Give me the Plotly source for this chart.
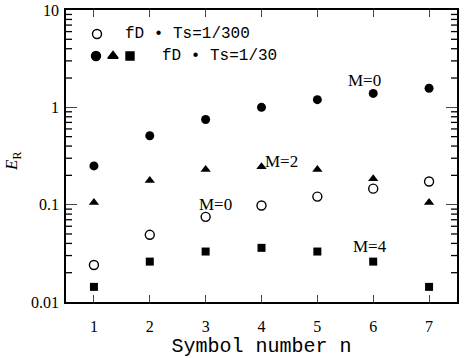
import math
import plotly.graph_objects as go

n = [1, 2, 3, 4, 5, 6, 7]
m0_slow = [0.024, 0.049, 0.075, 0.098, 0.121, 0.146, 0.173]   # fD*Ts=1/300, M=0 (open circles)
m0_fast = [0.25, 0.51, 0.75, 1.0, 1.2, 1.39, 1.57]            # fD*Ts=1/30, M=0
m2_fast = [0.105, 0.177, 0.23, 0.245, 0.23, 0.185, 0.105]     # fD*Ts=1/30, M=2
m4_fast = [0.0143, 0.026, 0.033, 0.036, 0.033, 0.026, 0.0143] # fD*Ts=1/30, M=4

ytickvals = [0.01, 0.1, 1, 10]
yticktext = ["0.01", "0.1", "1", "10"]
yminor = [k * 10 ** e for e in (-2, -1, 0) for k in range(2, 10)]

W, H = 466, 358
L, R, T, B = 66, 9, 10, 56
pw, ph = W - L - R, H - T - B
YLOG = (-2, 1)

def px(xp):
    return (xp - L) / pw

def py(yp):
    return 1 - (yp - T) / ph

serif = "Liberation Serif"
mono = "Liberation Mono"

fig = go.Figure()
fig.add_trace(go.Scatter(x=n, y=m0_slow, mode="markers",
                         marker=dict(symbol="circle-open", size=9, color="black", line=dict(width=1.4))))
fig.add_trace(go.Scatter(x=n, y=m0_fast, mode="markers",
                         marker=dict(symbol="circle", size=9, color="black")))
fig.add_trace(go.Scatter(x=n, y=m2_fast, mode="markers",
                         marker=dict(symbol="triangle-up", size=9, color="black")))
fig.add_trace(go.Scatter(x=n, y=m4_fast, mode="markers",
                         marker=dict(symbol="square", size=8, color="black")))

# legend keys, drawn on an overlay axis spanning the plot area (0..1)
legend_syms = ["circle-open", "circle", "triangle-up", "square"]
legend_x = [px(97), px(96), px(113), px(130)]
legend_y = [py(34), py(56), py(56), py(56)]
for s, lx, ly in zip(legend_syms, legend_x, legend_y):
    fig.add_trace(go.Scatter(x=[lx], y=[ly], mode="markers", xaxis="x2", yaxis="y2",
                             marker=dict(symbol=s, size=9 if s != "square" else 8, color="black",
                                         line=dict(width=1.4, color="black"))))

# minor log ticks on both vertical axes, drawn as line traces on the overlay axis
mx, my = [], []
tl = 6 / pw
for v in yminor:
    yy = (math.log10(v) - YLOG[0]) / (YLOG[1] - YLOG[0])
    mx += [0, tl, None, 1 - tl, 1, None]
    my += [yy, yy, None, yy, yy, None]
fig.add_trace(go.Scatter(x=mx, y=my, mode="lines", xaxis="x2", yaxis="y2",
                         line=dict(color="black", width=1.3), hoverinfo="skip", cliponaxis=False))

ann = [
    dict(x=5.84, y=0.278, text="M=0"),
    dict(x=4.36, y=-0.56, text="M=2"),
    dict(x=3.18, y=-1.0, text="M=0"),
    dict(x=5.95, y=-1.43, text="M=4"),
]
annotations = [dict(a, xref="x", yref="y", showarrow=False, xanchor="center", yanchor="middle",
                    font=dict(family=serif, size=17, color="black")) for a in ann]
annotations += [
    dict(x=px(123), y=py(34), text="fD • Ts=1/300", xref="paper", yref="paper", showarrow=False,
         xanchor="left", yanchor="middle", font=dict(family=mono, size=16, color="black")),
    dict(x=px(160), y=py(56), text="fD • Ts=1/30", xref="paper", yref="paper", showarrow=False,
         xanchor="left", yanchor="middle", font=dict(family=mono, size=16, color="black")),
    dict(x=px(13), y=py(162), xref="paper", yref="paper", text="<i>E</i><sub>R</sub>",
         textangle=-90, showarrow=False, xanchor="center", yanchor="middle",
         font=dict(family=serif, size=17, color="black")),
]

tickfont = dict(family=serif, size=16, color="black")
fig.update_layout(
    width=W, height=H,
    margin=dict(l=L, r=R, t=T, b=B, autoexpand=False),
    paper_bgcolor="white", plot_bgcolor="white",
    showlegend=False,
    annotations=annotations,
    xaxis=dict(range=[0.5, 7.5], tickvals=n, ticks="inside", ticklen=7, tickwidth=1.3,
               mirror="ticks", showline=True, linecolor="black", linewidth=1.5,
               showgrid=False, zeroline=False, tickfont=tickfont, ticklabelstandoff=9,
               automargin=False,
               title=dict(text="Symbol number n", font=dict(family=mono, size=20, color="black"),
                          standoff=4)),
    yaxis=dict(type="log", range=list(YLOG), tickvals=ytickvals, ticktext=yticktext,
               ticks="inside", ticklen=11, tickwidth=1.3,
               mirror="ticks", showline=True, linecolor="black", linewidth=1.5,
               showgrid=False, zeroline=False, tickfont=tickfont, ticklabelstandoff=2,
               automargin=False),
    xaxis2=dict(range=[0, 1], overlaying="x", visible=False, fixedrange=True),
    yaxis2=dict(range=[0, 1], overlaying="y", visible=False, fixedrange=True),
)

fig.write_html("out.html")
